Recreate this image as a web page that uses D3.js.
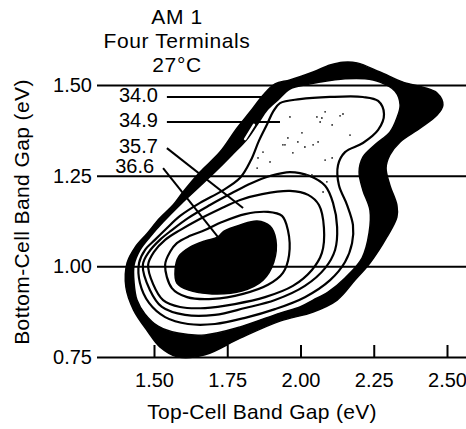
<!DOCTYPE html>
<html>
<head>
<meta charset="utf-8">
<script src="https://cdn.jsdelivr.net/npm/d3@7"></script>
<style>
    body { margin: 0; background: #fff; }
    svg { display: block; font-family: "Liberation Sans", Arial, Helvetica, sans-serif; }
</style>
</head>
<body>
<div id="chart"></div>
<script>
// values (band gaps in eV)
const xTicks = [1.5, 1.75, 2.0, 2.25, 2.5]
const yTicks = [0.75, 1.0, 1.25, 1.5]
const titleLines = ['AM 1', 'Four Terminals', '27°C']

const contourLabels = ['34.0', '34.9', '35.7', '36.6']
const leaderFrom = [[1.544, 1.467], [1.544, 1.398], [1.544, 1.326], [1.531, 1.271]]
const leaderTo = [[1.879, 1.467], [1.930, 1.398], [1.804, 1.161], [1.718, 1.081]]

// outer (34.0) band, outer and inner edge
const bandOuter = [[1.565, 1.169], [1.599, 1.205], [1.657, 1.260], [1.725, 1.315], [1.783, 1.381], [1.828, 1.426],
    [1.872, 1.472], [1.913, 1.503], [1.964, 1.514], [2.043, 1.536], [2.101, 1.555], [2.145, 1.563], [2.193, 1.561],
    [2.271, 1.536], [2.350, 1.508], [2.418, 1.494], [2.466, 1.478], [2.486, 1.445], [2.466, 1.417], [2.408, 1.381],
    [2.340, 1.343], [2.305, 1.307], [2.292, 1.271], [2.305, 1.224], [2.329, 1.169], [2.329, 1.136], [2.295, 1.081],
    [2.237, 1.009], [2.186, 0.962], [2.125, 0.907], [2.043, 0.874], [1.930, 0.849], [1.794, 0.802], [1.674, 0.756],
    [1.582, 0.750], [1.520, 0.778], [1.480, 0.819], [1.430, 0.880], [1.404, 0.943], [1.408, 1.009], [1.436, 1.053],
    [1.478, 1.092], [1.520, 1.133]]
const bandInner = [[1.592, 1.172], [1.650, 1.216], [1.708, 1.260], [1.766, 1.307], [1.821, 1.354], [1.858, 1.398],
    [1.886, 1.431], [1.923, 1.459], [1.964, 1.489], [2.015, 1.500], [2.067, 1.508], [2.152, 1.517], [2.220, 1.517],
    [2.271, 1.508], [2.323, 1.483], [2.340, 1.445], [2.329, 1.409], [2.305, 1.370], [2.254, 1.335], [2.213, 1.301],
    [2.200, 1.260], [2.213, 1.210], [2.237, 1.155], [2.234, 1.092], [2.210, 1.023], [2.152, 0.968], [2.094, 0.929],
    [2.043, 0.907], [1.998, 0.888], [1.930, 0.871], [1.794, 0.833], [1.674, 0.811], [1.582, 0.816], [1.514, 0.835],
    [1.469, 0.869], [1.442, 0.907], [1.432, 0.954], [1.432, 1.004], [1.452, 1.045], [1.486, 1.081], [1.531, 1.122]]

// iso-efficiency rings, outermost first
const ring4 = [[1.930, 1.450], [1.998, 1.461], [2.101, 1.467], [2.213, 1.467], [2.265, 1.456], [2.285, 1.420],
    [2.265, 1.376], [2.213, 1.340], [2.152, 1.315], [2.128, 1.279], [2.131, 1.224], [2.159, 1.169], [2.179, 1.114],
    [2.176, 1.064], [2.152, 1.012], [2.101, 0.962], [2.015, 0.915], [1.913, 0.882], [1.811, 0.858], [1.708, 0.841],
    [1.616, 0.841], [1.538, 0.860], [1.483, 0.899], [1.452, 0.954], [1.449, 1.009], [1.469, 1.045], [1.503, 1.073],
    [1.541, 1.103], [1.589, 1.139], [1.657, 1.175], [1.732, 1.208], [1.794, 1.244], [1.831, 1.293], [1.858, 1.346],
    [1.886, 1.392], [1.906, 1.426]]
const ring3 = [[1.462, 1.004], [1.483, 1.040], [1.520, 1.073], [1.561, 1.100], [1.616, 1.133], [1.691, 1.169],
    [1.766, 1.202], [1.834, 1.230], [1.896, 1.249], [1.964, 1.260], [2.032, 1.249], [2.084, 1.222], [2.111, 1.175],
    [2.125, 1.108], [2.118, 1.045], [2.084, 0.995], [2.015, 0.946], [1.913, 0.907], [1.811, 0.885], [1.708, 0.866],
    [1.606, 0.866], [1.527, 0.888], [1.486, 0.935]]
const ring2 = [[1.480, 1.004], [1.500, 1.040], [1.538, 1.073], [1.589, 1.100], [1.650, 1.128], [1.725, 1.158],
    [1.794, 1.183], [1.869, 1.199], [1.964, 1.208], [2.026, 1.197], [2.063, 1.169], [2.080, 1.106], [2.073, 1.037],
    [2.039, 0.990], [1.974, 0.946], [1.879, 0.915], [1.776, 0.896], [1.674, 0.885], [1.589, 0.888], [1.531, 0.907],
    [1.497, 0.951]]
const ring1 = [[1.538, 1.004], [1.555, 1.040], [1.578, 1.064], [1.623, 1.084], [1.674, 1.100], [1.732, 1.122],
    [1.811, 1.144], [1.889, 1.150], [1.937, 1.139], [1.957, 1.100], [1.961, 1.031], [1.940, 0.982], [1.889, 0.949],
    [1.804, 0.924], [1.701, 0.910], [1.613, 0.915], [1.561, 0.940]]
// 36.6 core, drawn solid
const core = [[1.572, 0.990], [1.585, 1.028], [1.623, 1.053], [1.674, 1.070], [1.718, 1.081], [1.739, 1.097],
    [1.794, 1.114], [1.852, 1.125], [1.896, 1.111], [1.916, 1.073], [1.909, 1.012], [1.872, 0.962], [1.800, 0.932],
    [1.698, 0.924], [1.616, 0.935], [1.578, 0.954]]

// stipple inside the upper lobe
const stipple = [[1.964, 1.412], [2.056, 1.412], [2.073, 1.409], [2.084, 1.426], [2.135, 1.415], [2.145, 1.420],
    [2.108, 1.390], [2.067, 1.398], [2.005, 1.368], [2.169, 1.362], [1.957, 1.354], [1.947, 1.335], [1.991, 1.343],
    [2.015, 1.329], [2.043, 1.335], [2.060, 1.343], [1.974, 1.313], [2.084, 1.293], [2.108, 1.299], [2.022, 1.252],
    [2.039, 1.252], [2.090, 1.233], [2.077, 1.205], [1.872, 1.315], [1.855, 1.299], [1.940, 1.335], [1.896, 1.288],
    [1.852, 1.271]]
// white flaw inside the band
const bandFlaw = [[1.841, 1.390], [1.811, 1.351]]

function drawChart() {
    const config = {
        width: 466,
        height: 429,
        gridLeft: 97,
        gridRight: 466,
        fontSize: 20,
    }

    const svg = d3
        .select('#chart')
        .append('svg')
        .attr('width', config.width)
        .attr('height', config.height)
        .attr('viewBox', `0 0 ${config.width} ${config.height}`)

    const scaleX = d3
        .scaleLinear()
        .domain([1.5, 2.5])
        .range([154, 447])

    const scaleY = d3
        .scaleLinear()
        .domain([0.75, 1.5])
        .range([357, 85])

    const closedLine = d3
        .line()
        .x(d => scaleX(d[0]))
        .y(d => scaleY(d[1]))
        .curve(d3.curveCatmullRomClosed.alpha(0.5))

    // horizontal rules double as the y axis
    const yAxisGroup = svg
        .append('g')
        .attr('transform', `translate(${config.gridLeft}, 0)`)
        .call(d3.axisLeft(scaleY)
            .tickValues(yTicks)
            .tickFormat(d3.format('.2f'))
            .tickSize(-(config.gridRight - config.gridLeft))
            .tickPadding(5))
    yAxisGroup.select('.domain').remove()
    yAxisGroup.selectAll('line').attr('stroke', '#000').attr('stroke-width', 2)
    yAxisGroup.selectAll('text')
        .attr('font-size', config.fontSize)
        .attr('font-family', null)
        .attr('fill', '#000')

    const xAxisGroup = svg
        .append('g')
        .attr('transform', `translate(0, ${scaleY(0.75)})`)
        .call(d3.axisBottom(scaleX)
            .tickValues(xTicks)
            .tickFormat(d3.format('.2f'))
            .tickSizeInner(-12)
            .tickSizeOuter(0)
            .tickPadding(16))
    xAxisGroup.select('.domain').remove()
    xAxisGroup.selectAll('line').attr('stroke', '#000').attr('stroke-width', 2)
    xAxisGroup.selectAll('text')
        .attr('font-size', config.fontSize)
        .attr('font-family', null)
        .attr('fill', '#000')

    const plot = svg.append('g')

    plot.append('path')
        .attr('d', closedLine(bandOuter) + closedLine(bandInner))
        .attr('fill', '#000')
        .attr('fill-rule', 'evenodd')
        .attr('stroke', '#000')
        .attr('stroke-width', 1.5)

    plot.selectAll('.ring')
        .data([ring4, ring3, ring2, ring1])
        .enter()
        .append('path')
        .attr('class', 'ring')
        .attr('d', closedLine)
        .attr('fill', 'none')
        .attr('stroke', '#000')
        .attr('stroke-width', 2.2)

    plot.append('path')
        .attr('d', closedLine(core))
        .attr('fill', '#000')
        .attr('stroke', '#000')
        .attr('stroke-width', 1.5)

    plot.selectAll('.dot')
        .data(stipple)
        .enter()
        .append('circle')
        .attr('class', 'dot')
        .attr('cx', d => scaleX(d[0]))
        .attr('cy', d => scaleY(d[1]))
        .attr('r', 0.9)
        .attr('fill', '#222')

    plot.append('line')
        .attr('x1', scaleX(bandFlaw[0][0]))
        .attr('y1', scaleY(bandFlaw[0][1]))
        .attr('x2', scaleX(bandFlaw[1][0]))
        .attr('y2', scaleY(bandFlaw[1][1]))
        .attr('stroke', '#fff')
        .attr('stroke-width', 2.5)
        .attr('stroke-linecap', 'round')

    // contour value labels with leader lines
    const labels = svg.selectAll('.label')
        .data(contourLabels.map((text, i) => ({ text, from: leaderFrom[i], to: leaderTo[i] })))
        .enter()
        .append('g')
        .attr('class', 'label')

    labels.append('line')
        .attr('x1', d => scaleX(d.from[0]))
        .attr('y1', d => scaleY(d.from[1]))
        .attr('x2', d => scaleX(d.to[0]))
        .attr('y2', d => scaleY(d.to[1]))
        .attr('stroke', '#000')
        .attr('stroke-width', 2)

    labels.append('text')
        .attr('x', d => scaleX(d.from[0]) - 9)
        .attr('y', d => scaleY(d.from[1]) + 5)
        .attr('font-size', config.fontSize)
        .attr('text-anchor', 'end')
        .text(d => d.text)

    svg.selectAll('.title')
        .data(titleLines)
        .enter()
        .append('text')
        .attr('class', 'title')
        .attr('x', 177)
        .attr('y', (d, i) => 24 + i * 24)
        .attr('font-size', 21)
        .attr('letter-spacing', 0.6)
        .attr('text-anchor', 'middle')
        .text(d => d)

    svg.append('text')
        .attr('x', 262)
        .attr('y', 419)
        .attr('font-size', 21)
        .attr('letter-spacing', 0.3)
        .attr('text-anchor', 'middle')
        .text('Top-Cell Band Gap (eV)')

    svg.append('text')
        .attr('transform', 'rotate(-90)')
        .attr('x', -212)
        .attr('y', 29)
        .attr('font-size', 21)
        .attr('letter-spacing', 0.4)
        .attr('text-anchor', 'middle')
        .text('Bottom-Cell Band Gap (eV)')
}

drawChart()
</script>
</body>
</html>
